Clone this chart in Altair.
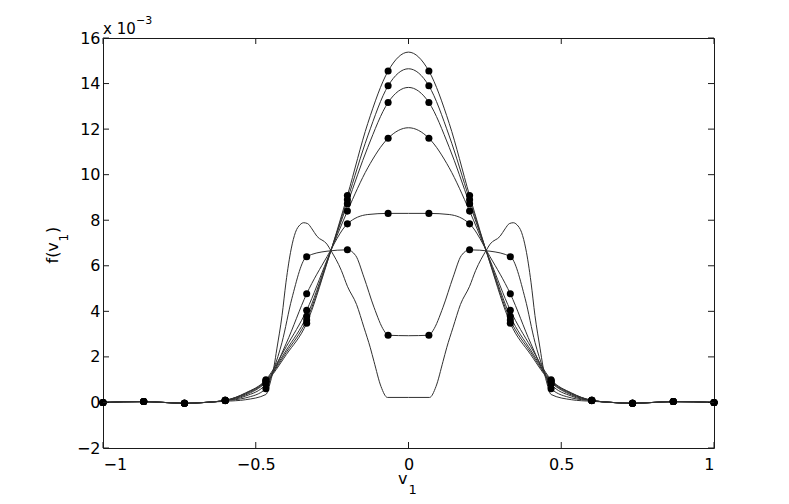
import altair as alt
import pandas as pd

# ---- data (values in units of 1e-3) ----
NODES = [-1.0, -0.8667, -0.7333, -0.6, -0.4667, -0.3333, -0.2, -0.0667,
         0.0667, 0.2, 0.3333, 0.4667, 0.6, 0.7333, 0.8667, 1.0]

XG = [-1.0, -0.9333, -0.8667, -0.8, -0.7333, -0.6667, -0.6, -0.5333, -0.4667, -0.4,
      -0.3333, -0.2667, -0.2, -0.1333, -0.0667, 0.0, 0.0667, 0.1333, 0.2, 0.2667,
      0.3333, 0.4, 0.4667, 0.5333, 0.6, 0.6667, 0.7333, 0.8, 0.8667, 0.9333, 1.0]

C2 = [0.0, 0.03, 0.04, 0.0, -0.04, 0.0, 0.08, 0.28, 0.8, 2.6, 4.77, 6.4, 7.84, 8.25, 8.3, 8.3,
      8.3, 8.25, 7.84, 6.4, 4.77, 2.6, 0.8, 0.28, 0.08, 0.0, -0.04, 0.0, 0.04, 0.03, 0.0]
C3 = [0.0, 0.03, 0.04, 0.0, -0.04, 0.0, 0.09, 0.42, 1.0, 2.45, 4.05, 6.25, 8.4, 10.3, 11.6, 12.06,
      11.6, 10.3, 8.4, 6.25, 4.05, 2.45, 1.0, 0.42, 0.09, 0.0, -0.04, 0.0, 0.04, 0.03, 0.0]
C4 = [0.0, 0.03, 0.04, 0.0, -0.04, 0.0, 0.09, 0.4, 0.96, 2.3, 3.78, 6.2, 8.72, 11.2, 13.17, 13.83,
      13.17, 11.2, 8.72, 6.2, 3.78, 2.3, 0.96, 0.4, 0.09, 0.0, -0.04, 0.0, 0.04, 0.03, 0.0]
C5 = [0.0, 0.03, 0.04, 0.0, -0.04, 0.0, 0.09, 0.37, 0.92, 2.2, 3.62, 6.15, 8.9, 11.7, 13.9, 14.65,
      13.9, 11.7, 8.9, 6.15, 3.62, 2.2, 0.92, 0.37, 0.09, 0.0, -0.04, 0.0, 0.04, 0.03, 0.0]
C6 = [0.0, 0.03, 0.04, 0.0, -0.04, 0.0, 0.09, 0.33, 0.88, 2.1, 3.48, 6.12, 9.08, 12.25, 14.55, 15.38,
      14.55, 12.25, 9.08, 6.12, 3.48, 2.1, 0.88, 0.33, 0.09, 0.0, -0.04, 0.0, 0.04, 0.03, 0.0]

X1 = [-1.0, -0.9333, -0.8667, -0.8, -0.7333, -0.6667, -0.6, -0.5333, -0.4667, -0.441, -0.414,
      -0.382, -0.3333, -0.2667, -0.2, -0.173, -0.146, -0.113, -0.08, -0.0667, 0.0,
      0.0667, 0.08, 0.113, 0.146, 0.173, 0.2, 0.2667, 0.3333, 0.382, 0.414, 0.441, 0.4667,
      0.5333, 0.6, 0.6667, 0.7333, 0.8, 0.8667, 0.9333, 1.0]
C1 = [0.0, 0.03, 0.04, 0.0, -0.04, 0.0, 0.08, 0.2, 0.6, 1.47, 2.64,
      4.55, 6.4, 6.64, 6.7, 6.45, 5.5, 4.18, 3.15, 2.95, 2.93,
      2.95, 3.15, 4.18, 5.5, 6.45, 6.7, 6.64, 6.4, 4.55, 2.64, 1.47, 0.6,
      0.2, 0.08, 0.0, -0.04, 0.0, 0.04, 0.03, 0.0]

X0 = [-1.0, -0.9333, -0.8667, -0.8, -0.7333, -0.6667, -0.6, -0.5333, -0.4667, -0.452, -0.44,
      -0.431, -0.414, -0.401, -0.384, -0.37, -0.355, -0.343, -0.33, -0.316, -0.3, -0.267,
      -0.254, -0.22, -0.2, -0.17, -0.146, -0.125, -0.113, -0.09, -0.069, 0.0,
      0.069, 0.09, 0.113, 0.125, 0.146, 0.17, 0.2, 0.22, 0.254, 0.267, 0.3, 0.316, 0.33,
      0.343, 0.355, 0.37, 0.384, 0.401, 0.414, 0.431, 0.44, 0.452, 0.4667, 0.5333, 0.6,
      0.6667, 0.7333, 0.8, 0.8667, 0.9333, 1.0]
C0 = [0.0, 0.02, 0.02, 0.0, -0.03, 0.0, 0.05, 0.12, 0.35, 0.9, 1.6,
      2.35, 3.81, 5.28, 6.74, 7.47, 7.8, 7.89, 7.85, 7.62, 7.3, 6.95,
      6.67, 5.8, 5.1, 4.3, 3.3, 2.4, 1.8, 0.7, 0.22, 0.22,
      0.22, 0.7, 1.8, 2.4, 3.3, 4.3, 5.1, 5.8, 6.67, 6.95, 7.3, 7.62, 7.85,
      7.89, 7.8, 7.47, 6.74, 5.28, 3.81, 2.35, 1.6, 0.9, 0.35, 0.12, 0.05,
      0.0, -0.03, 0.0, 0.02, 0.02, 0.0]

XTICKS = [-1, -0.5, 0, 0.5, 1]
YTICKS = [-2, 0, 2, 4, 6, 8, 10, 12, 14, 16]

# ---- build tables ----
rows = []
node_keys = [round(n, 4) for n in NODES]
for name, xs_, ys_ in [("c0", X0, C0), ("c1", X1, C1), ("c2", XG, C2), ("c3", XG, C3),
                       ("c4", XG, C4), ("c5", XG, C5), ("c6", XG, C6)]:
    for i, (a, b) in enumerate(zip(xs_, ys_)):
        rows.append({"curve": name, "i": i, "v": a, "f": b,
                     "node": (name != "c0") and (round(a, 4) in node_keys)})
df = pd.DataFrame(rows)
dots = df[df["node"]]

W, H = 611, 410
INK = "#1a1a1a"
FONT = "DejaVu Sans"

xs = alt.Scale(domain=[-1, 1], nice=False, zero=False)
ys = alt.Scale(domain=[-2, 16], nice=False, zero=False)

xaxis = alt.Axis(values=XTICKS, format="~g", title=None, grid=False, domain=False,
                 ticks=False, tickSize=0, labelPadding=8, labelFont=FONT, labelFontSize=16,
                 labelColor="black")
yaxis = alt.Axis(values=YTICKS, format="d", title=None, grid=False, domain=False,
                 ticks=False, tickSize=0, labelPadding=3, labelFont=FONT, labelFontSize=16,
                 labelColor="black")

lines = alt.Chart(df).mark_line(interpolate="monotone", color="#303030", strokeWidth=1).encode(
    x=alt.X("v:Q", scale=xs, axis=xaxis),
    y=alt.Y("f:Q", scale=ys, axis=yaxis),
    detail="curve:N",
    order="i:Q",
)

pts = alt.Chart(dots).mark_circle(color="black", opacity=1, size=50).encode(
    x=alt.X("v:Q", scale=xs, axis=xaxis),
    y=alt.Y("f:Q", scale=ys, axis=yaxis),
)

xt = pd.DataFrame({"t": XTICKS})
yt = pd.DataFrame({"t": YTICKS})
tick_b = alt.Chart(xt).mark_rule(color=INK).encode(
    x=alt.X("t:Q", scale=xs, axis=xaxis), y=alt.value(H), y2=alt.value(H - 6))
tick_t = alt.Chart(xt).mark_rule(color=INK).encode(
    x=alt.X("t:Q", scale=xs, axis=xaxis), y=alt.value(0), y2=alt.value(6))
tick_l = alt.Chart(yt).mark_rule(color=INK).encode(
    y=alt.Y("t:Q", scale=ys, axis=yaxis), x=alt.value(0), x2=alt.value(6))
tick_r = alt.Chart(yt).mark_rule(color=INK).encode(
    y=alt.Y("t:Q", scale=ys, axis=yaxis), x=alt.value(W), x2=alt.value(W - 6))

one = pd.DataFrame({"a": [0]})

def txt(s, x, y, size, angle=0, align="left"):
    return alt.Chart(one).mark_text(text=s, font=FONT, fontSize=size, color="black",
                                    align=align, baseline="alphabetic", angle=angle).encode(
        x=alt.value(x), y=alt.value(y))

labels = [
    txt("x 10", 0, -4.3, 15),
    txt("\u22123", 33, -14.5, 11),
    txt("v", 295, 446, 16),
    txt("1", 305.5, 455.5, 13),
    txt("f(v", -45, 225.5, 16, angle=270),
    txt("1", -35.5, 203.5, 12, angle=270),
    txt(")", -45, 195, 16, angle=270),
]

chart = alt.layer(lines, pts, tick_b, tick_t, tick_l, tick_r, *labels).properties(
    width=W, height=H,
    background="white",
    padding={"left": 95, "top": 30, "right": 67, "bottom": 48},
    autosize=alt.AutoSizeParams(type="none"),
).configure_view(stroke=INK, strokeWidth=1)

chart.save("out.html", embed_options={"renderer": "svg", "actions": False})
